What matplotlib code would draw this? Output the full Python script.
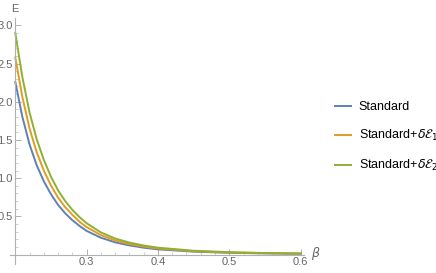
import matplotlib
matplotlib.use("Agg")
import matplotlib.pyplot as plt

plt.rcParams["font.family"] = ["Liberation Sans", "DejaVu Sans"]
plt.rcParams["mathtext.fontset"] = "dejavusans"

beta = [0.20, 0.21, 0.22, 0.23, 0.24, 0.25, 0.26, 0.27, 0.28, 0.29, 0.30,
        0.32, 0.34, 0.36, 0.38, 0.40, 0.45, 0.50, 0.55, 0.60]
standard = [2.26, 1.80, 1.44, 1.17, 0.96, 0.79, 0.65, 0.54, 0.45, 0.375, 0.31,
            0.22, 0.16, 0.12, 0.09, 0.068, 0.038, 0.023, 0.015, 0.010]
standard_d1 = [2.58, 2.06, 1.65, 1.34, 1.10, 0.905, 0.745, 0.62, 0.52, 0.43, 0.36,
               0.255, 0.185, 0.138, 0.104, 0.079, 0.044, 0.027, 0.018, 0.012]
standard_d2 = [2.90, 2.32, 1.86, 1.51, 1.24, 1.02, 0.84, 0.70, 0.585, 0.49, 0.41,
               0.29, 0.21, 0.157, 0.118, 0.09, 0.05, 0.031, 0.02, 0.014]
labels = ["Standard", r"Standard+$\delta\mathcal{E}_1$", r"Standard+$\delta\mathcal{E}_2$"]
colors = ["#5E81B5", "#E19C24", "#8FB032"]

fig = plt.figure(figsize=(4.36, 2.73), dpi=100)
ax = fig.add_axes([0.0236, 0.034, 0.674, 0.901])

for ys, lab, c in zip([standard, standard_d1, standard_d2], labels, colors):
    ax.plot(beta, ys, color=c, lw=1.4, label=lab)

ax.set_xlim(0.193, 0.605)
ax.set_ylim(-0.12, 3.1)
ax.spines["left"].set_position(("data", 0.2))
ax.spines["bottom"].set_position(("data", 0.0))
for s in ["top", "right"]:
    ax.spines[s].set_visible(False)
for s in ["left", "bottom"]:
    ax.spines[s].set_color("#b0b0b0")
    ax.spines[s].set_linewidth(0.8)

ax.set_xticks([0.3, 0.4, 0.5, 0.6])
ax.set_xticklabels(["0.3", "0.4", "0.5", "0.6"])
ax.set_xticks([0.22, 0.24, 0.26, 0.28, 0.32, 0.34, 0.36, 0.38, 0.42, 0.44, 0.46, 0.48,
               0.52, 0.54, 0.56, 0.58], minor=True)
ax.set_yticks([0.5, 1.0, 1.5, 2.0, 2.5, 3.0])
ax.set_yticklabels(["0.5", "1.0", "1.5", "2.0", "2.5", "3.0"])
ax.set_yticks([0.1, 0.2, 0.3, 0.4, 0.6, 0.7, 0.8, 0.9, 1.1, 1.2, 1.3, 1.4, 1.6, 1.7,
               1.8, 1.9, 2.1, 2.2, 2.3, 2.4, 2.6, 2.7, 2.8, 2.9], minor=True)
ax.tick_params(which="major", direction="in", length=4, width=0.7, color="#b0b0b0",
               labelcolor="#666666", labelsize=8, pad=2)
ax.tick_params(which="minor", direction="in", length=2, width=0.6, color="#c8c8c8")
ax.patch.set_alpha(0)

fig.text(15 / 436, 1 - 9 / 273, "E", color="#666666", fontsize=8, ha="center", va="center")
fig.text(316 / 436, 1 - 254 / 273, r"$\beta$", color="#666666", fontsize=9, ha="center", va="center")

ax.legend(loc="center left", bbox_to_anchor=(330 / 436, 1 - 137 / 273),
          bbox_transform=fig.transFigure, frameon=False, fontsize=9,
          handlelength=1.3, handletextpad=0.6, labelspacing=1.2, borderaxespad=0)

fig.savefig("out.png", dpi=100)
